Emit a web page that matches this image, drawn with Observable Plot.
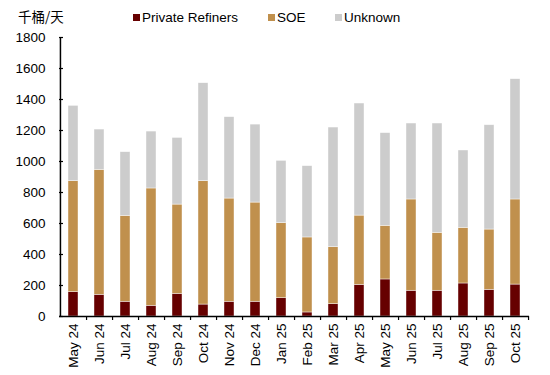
<!DOCTYPE html>
<html>
<head>
<meta charset="utf-8">
<script src="https://cdn.jsdelivr.net/npm/d3@7"></script>
<script src="https://cdn.jsdelivr.net/npm/@observablehq/plot@0.6"></script>
<style>
  body { margin: 0; background: #fff; font-family: "Liberation Sans", Arial, sans-serif; }
  #wrap { width: 550px; height: 375px; position: relative; overflow: hidden; }
  #header { position: relative; height: 28px; font-size: 13.5px; color: #000; }
  #unit { position: absolute; left: 18px; top: 8px; font-family: "Noto Sans CJK SC", "Liberation Sans", sans-serif; font-size: 13.5px; line-height: 17px; }
  .lg { position: absolute; top: 10px; line-height: 15px; white-space: nowrap; }
  .sw { display: inline-block; width: 7px; height: 7px; margin-right: 2px; vertical-align: 1px; }
  svg { display: block; }
</style>
</head>
<body>
<div id="wrap">
  <div id="header">
    <div id="unit">千桶/天</div>
  </div>
  <div id="chart"></div>
</div>
<script>
const months = ["May 24","Jun 24","Jul 24","Aug 24","Sep 24","Oct 24","Nov 24","Dec 24","Jan 25","Feb 25","Mar 25","Apr 25","May 25","Jun 25","Jul 25","Aug 25","Sep 25","Oct 25"];
const seriesNames = ["Private Refiners", "SOE", "Unknown"];
const seriesColors = ["#660000", "#C0904D", "#CCCCCC"];
const privateRefiners = [157,140,95,69,146,77,95,95,118,26,80,204,239,166,166,213,172,206];
const soe = [716,806,554,757,576,796,666,640,484,484,367,447,346,589,374,359,389,549];
const unknown = [486,260,411,367,430,632,525,503,402,460,772,723,598,490,705,499,673,776];
const yTicks = [0,200,400,600,800,1000,1200,1400,1600,1800];

const seriesValues = [privateRefiners, soe, unknown];
const rows = [];
seriesNames.forEach((s, si) => {
  months.forEach((m, i) => rows.push({month: m, series: s, value: seriesValues[si][i]}));
});

// legend
const header = document.getElementById("header");
const legendX = [133, 268, 335];
seriesNames.forEach((s, i) => {
  const el = document.createElement("div");
  el.className = "lg";
  el.style.left = legendX[i] + "px";
  el.innerHTML = `<span class="sw" style="background:${seriesColors[i]}"></span>${s}`;
  header.appendChild(el);
});

const W = 550, H = 347, mL = 59, mR = 21, mT = 9, mB = 59;
const step = (W - mL - mR) / months.length;

const chart = Plot.plot({
  width: W,
  height: H,
  marginLeft: mL,
  marginRight: mR,
  marginTop: mT,
  marginBottom: mB,
  style: {fontFamily: "Liberation Sans, Arial, sans-serif", fontSize: "13.5px", color: "#000", background: "#fff"},
  x: {domain: months, paddingInner: 0.6, paddingOuter: 0.3, label: null},
  y: {domain: [0, 1800], label: null},
  color: {domain: seriesNames, range: seriesColors},
  marks: [
    Plot.barY(rows, {x: "month", y: "value", fill: "series", stroke: "#fff", strokeWidth: 0.6, strokeOpacity: 0.7}),
    Plot.axisY(yTicks, {anchor: "left", tickSize: 0, tickPadding: 14, fontSize: 13.5, tickFormat: d => String(d), label: null}),
    Plot.axisY(yTicks, {anchor: "left", tickSize: 4, dx: 4, text: null, strokeWidth: 1.2, label: null}),
    Plot.axisX(months, {anchor: "bottom", tickSize: 0, tickPadding: 7, tickRotate: -90, fontSize: 13.5, label: null}),
    Plot.axisX(months, {anchor: "bottom", tickSize: 4, dx: step / 2, text: null, strokeWidth: 1.2, label: null}),
    Plot.ruleY([0], {stroke: "#000", strokeWidth: 1.5}),
    Plot.ruleX([months[0]], {stroke: "#000", strokeWidth: 1.5, dx: -step / 2, y1: 0, y2: 1800})
  ]
});
document.getElementById("chart").appendChild(chart);
</script>
</body>
</html>
